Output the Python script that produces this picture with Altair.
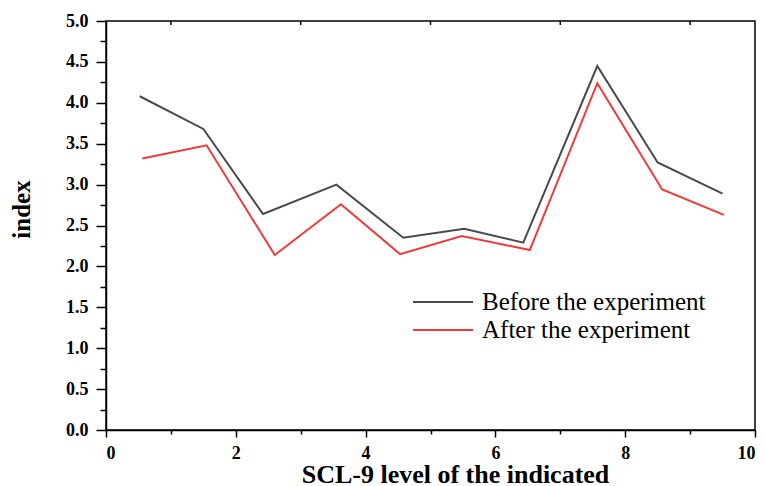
import altair as alt
import pandas as pd

# Data
before_x = [0.52, 1.50, 2.42, 3.55, 4.58, 5.52, 6.43, 7.57, 8.50, 9.50]
before_y = [4.08, 3.68, 2.64, 3.00, 2.35, 2.46, 2.29, 4.45, 3.27, 2.89]
after_x = [0.56, 1.55, 2.60, 3.62, 4.53, 5.48, 6.53, 7.57, 8.57, 9.52]
after_y = [3.32, 3.48, 2.14, 2.76, 2.15, 2.37, 2.20, 4.24, 2.94, 2.63]
series = ["Before the experiment", "After the experiment"]
colors = ["#4a4a4a", "#f03a3a"]
x_major = [0, 2, 4, 6, 8, 10]
x_minor = [1, 3, 5, 7, 9]
y_major = [0.0, 0.5, 1.0, 1.5, 2.0, 2.5, 3.0, 3.5, 4.0, 4.5, 5.0]
y_minor = [0.25, 0.75, 1.25, 1.75, 2.25, 2.75, 3.25, 3.75, 4.25, 4.75]
x_title = "SCL-9 level of the indicated"
y_title = "index"

rows = []
for i, (x, y) in enumerate(zip(before_x, before_y)):
    rows.append({"x": x, "y": y, "series": series[0], "order": i})
for i, (x, y) in enumerate(zip(after_x, after_y)):
    rows.append({"x": x, "y": y, "series": series[1], "order": i})
df = pd.DataFrame(rows)

FONT = "Liberation Serif"
xscale = alt.Scale(domain=[0, 10], nice=False, zero=False)
yscale = alt.Scale(domain=[0, 5], nice=False, zero=False)

lines = alt.Chart(df).mark_line(strokeWidth=2).encode(
    x=alt.X("x:Q", scale=xscale,
            axis=alt.Axis(orient="bottom", values=x_major, tickSize=7, tickWidth=1.5,
                          domainWidth=1.5, domainColor="#000", tickColor="#000",
                          labelFont=FONT, labelFontSize=18, labelFontWeight="bold",
                          labelColor="#000", labelPadding=7, grid=False,
                          title=x_title, titleFont=FONT, titleFontSize=26,
                          titleFontWeight="bold", titleColor="#000",
                          titleX=349, titleY=52, titleBaseline="alphabetic",
                          titleAlign="center")),
    y=alt.Y("y:Q", scale=yscale,
            axis=alt.Axis(orient="left", values=y_major, format=".1f", tickSize=10,
                          tickWidth=1.5, domainWidth=1.5, domainColor="#000",
                          tickColor="#000", labelFont=FONT, labelFontSize=18,
                          labelFontWeight="bold", labelColor="#000", labelPadding=8,
                          grid=False, title=y_title, titleFont=FONT, titleFontSize=25,
                          titleFontWeight="bold", titleColor="#000", titleAngle=-90,
                          titleX=-85, titleY=188, titleAlign="center",
                          titleBaseline="middle")),
    color=alt.Color("series:N", scale=alt.Scale(domain=series, range=colors),
                    legend=alt.Legend(orient="none", legendX=324, legendY=268,
                                      title=None, symbolType="M-2.5,0H2.5",
                                      symbolSize=576, symbolStrokeWidth=2,
                                      labelFont=FONT, labelFontSize=25,
                                      labelColor="#000", labelOffset=26,
                                      labelLimit=500, rowPadding=2, padding=0)),
    order="order:Q",
)

minor = alt.Chart(pd.DataFrame({"x": [5.0], "y": [2.5]})).mark_point(opacity=0).encode(
    x=alt.X("x:Q", scale=xscale,
            axis=alt.Axis(orient="bottom", values=x_minor, tickSize=4, tickWidth=1.5,
                          tickColor="#000", labels=False, domain=False, grid=False,
                          title=None)),
    y=alt.Y("y:Q", scale=yscale,
            axis=alt.Axis(orient="left", values=y_minor, tickSize=6, tickWidth=1.5,
                          tickColor="#000", labels=False, domain=False, grid=False,
                          title=None)),
)

top_ticks = alt.Chart(pd.DataFrame({"x": x_minor})).mark_rule(
    color="#000", strokeWidth=1.5).encode(
    x=alt.X("x:Q", scale=xscale, axis=None),
    y=alt.value(0),
    y2=alt.value(4),
)

chart = alt.layer(lines, minor, top_ticks).resolve_axis(
    x="independent", y="independent"
).properties(
    width=649, height=409,
    autosize=alt.AutoSizeParams(type="none"),
    padding={"left": 98, "top": 13, "right": 3, "bottom": 56},
).configure_view(stroke="#000", strokeWidth=1.5)

chart.save("out.html", embed_options={"renderer": "svg", "actions": False})
